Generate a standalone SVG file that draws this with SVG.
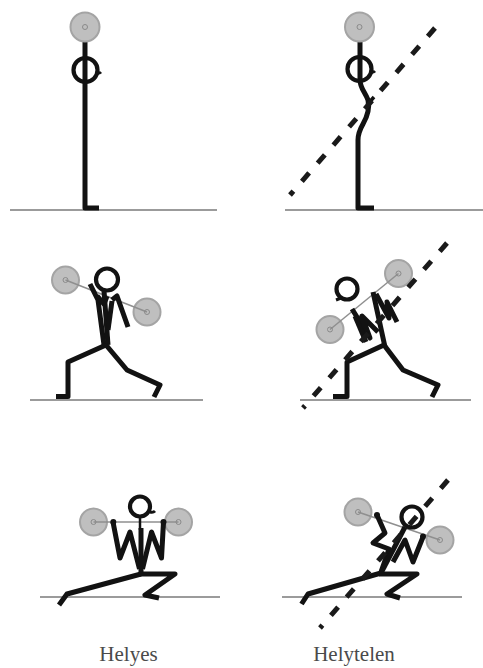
<svg xmlns="http://www.w3.org/2000/svg" width="483" height="668" viewBox="0 0 483 668">
  <style>
    .ground { stroke: #7a7a7a; stroke-width: 1.6; fill: none; }
    .body { stroke: #121212; stroke-width: 5; fill: none; stroke-linecap: butt; stroke-linejoin: round; }
    .head { stroke: #121212; stroke-width: 4.2; fill: #fff; }
    .open { fill: none; }
    .plate { fill: #bfbfbf; stroke: #a4a4a4; stroke-width: 2; }
    .hub { fill: none; stroke: #8a8a8a; stroke-width: 1; }
    .bar { stroke: #8f8f8f; stroke-width: 1.5; fill: none; }
    .hand { fill: #121212; }
    .axis { stroke: #1a1a1a; stroke-width: 5; fill: none; stroke-dasharray: 11 13; }
    .caption { font-family: "Liberation Serif", "Times New Roman", serif; font-size: 21px; fill: #4a4a4a; text-anchor: middle; }
  </style>

  <!-- floor lines -->
  <g id="floors">
    <line class="ground" x1="10" y1="210" x2="217" y2="210"/>
    <line class="ground" x1="285" y1="210" x2="483" y2="210"/>
    <line class="ground" x1="30" y1="400" x2="203" y2="400"/>
    <line class="ground" x1="300" y1="400" x2="471" y2="400"/>
    <line class="ground" x1="40" y1="597" x2="220" y2="597"/>
    <line class="ground" x1="282" y1="597" x2="462" y2="597"/>
  </g>

  <!-- standing, bar overhead seen from the side: upright -->
  <g id="stand-upright">
    <path class="body" d="M85,41 V208 H99"/>
    <circle class="head open" cx="85.5" cy="70" r="12"/>
    <path class="body" style="stroke-width:3" d="M96,73 q3,1 5,-1"/>
    <circle class="plate" cx="85" cy="27" r="14.5"/>
    <circle class="hub" cx="85" cy="27" r="2.5"/>
  </g>

  <!-- standing, arched back -->
  <g id="stand-arched">
    <path class="body" d="M360,41 V80 C360,88 365,92 368,100 C370,109 367,117 363,124 C359,131 358,134 358,140 V208 H374"/>
    <path class="body" style="stroke-width:3.5" d="M367,105 L374,97"/>
    <circle class="head open" cx="359.5" cy="69" r="12"/>
    <path class="body" style="stroke-width:3" d="M370,72 q3,1 5,-1"/>
    <circle class="plate" cx="359.5" cy="27" r="14.5"/>
    <circle class="hub" cx="359.5" cy="27" r="2.5"/>
  </g>

  <!-- lunge with bar on shoulders: upright -->
  <g id="lunge-upright">
    <circle class="plate" cx="65.5" cy="280" r="13.5"/>
    <circle class="plate" cx="147" cy="312" r="13.5"/>
    <line class="bar" x1="65.5" y1="280" x2="147" y2="312"/>
    <circle class="hub" cx="65.5" cy="280" r="2.5"/>
    <circle class="hub" cx="147" cy="312" r="2.5"/>
    <circle class="head" cx="107" cy="279.5" r="11"/>
    <path class="body" d="M90,284 L98,300 L104,345"/>
    <path class="body" d="M97,296 L104,304 L107,296"/>
    <path class="body" d="M104,291 L108,345"/>
    <path class="body" d="M112,300 L117,296 L128,327"/>
    <path class="body" d="M112,301 L108,330"/>
    <path class="body" d="M106,345 L68,362 V396.5 H56"/>
    <path class="body" d="M106,345 L127,370 L160,385 L154,397"/>
  </g>

  <!-- lunge with bar on shoulders: leaning forward -->
  <g id="lunge-leaning">
    <circle class="plate" cx="330" cy="329.5" r="13.5"/>
    <circle class="plate" cx="398.5" cy="273.5" r="13.5"/>
    <line class="bar" x1="330" y1="329.5" x2="398.5" y2="273.5"/>
    <circle class="hub" cx="330" cy="329.5" r="2.5"/>
    <circle class="hub" cx="398.5" cy="273.5" r="2.5"/>
    <circle class="head" cx="347" cy="289" r="10.5"/>
    <path class="body" style="stroke-width:3" d="M341,298 L336,300"/>
    <path class="body" d="M373,292 L385,347"/>
    <path class="body" d="M352,309 L370,338 L362,316 L378,332"/>
    <path class="body" d="M376,294 L389,318 L387,302 L397,322"/>
    <path class="body" d="M355,316 L366,342"/>
    <path class="body" d="M384,345 L347,362 V396.5 H333"/>
    <path class="body" d="M384,345 L403,370 L438,385 L432,397"/>
  </g>

  <!-- deep lunge, bar in front of shoulders: upright -->
  <g id="deep-upright">
    <circle class="plate" cx="93.5" cy="522" r="13.5"/>
    <circle class="plate" cx="178.5" cy="522" r="13.5"/>
    <line class="bar" x1="93.5" y1="522" x2="178.5" y2="522"/>
    <circle class="hub" cx="93.5" cy="522" r="2.5"/>
    <circle class="hub" cx="178.5" cy="522" r="2.5"/>
    <circle class="head" cx="140" cy="506.5" r="10"/>
    <path class="body" style="stroke-width:3" d="M150,512 q3,1 5,-1"/>
    <line class="body" style="stroke-width:2.5" x1="140" y1="516" x2="140" y2="530"/>
    <path class="body" d="M113,522 L120,558 L130,532 L139.5,569"/>
    <path class="body" d="M163.5,522 L161.5,558 L151.5,532 L142.5,569"/>
    <line class="body" x1="141" y1="528" x2="141" y2="575"/>
    <circle class="hand" cx="113.3" cy="522" r="3"/>
    <circle class="hand" cx="163.5" cy="522" r="3"/>
    <path class="body" d="M141,574 L67,594 L59,605"/>
    <path class="body" d="M139,574 H175 L145,595 L159,598"/>
  </g>

  <!-- deep lunge, bar in front of shoulders: twisted -->
  <g id="deep-twisted">
    <circle class="plate" cx="358" cy="512" r="13.5"/>
    <circle class="plate" cx="440" cy="540" r="13.5"/>
    <line class="bar" x1="358" y1="512" x2="440" y2="540"/>
    <circle class="hub" cx="358" cy="512" r="2.5"/>
    <circle class="hub" cx="440" cy="540" r="2.5"/>
    <circle class="head" cx="412" cy="517" r="10.5"/>
    <path class="body" d="M377,515 L385,533 L373,543 L389,549 L381,572"/>
    <path class="body" d="M423,537 L413,562 L405,540 L393,562"/>
    <path class="body" d="M405,527 L381,573"/>
    <circle class="hand" cx="377" cy="515" r="3"/>
    <circle class="hand" cx="423" cy="536.5" r="3"/>
    <path class="body" d="M381,573 L308,594 L301.5,604"/>
    <path class="body" d="M379,574 H417 L387,594 L400,598"/>
  </g>

  <!-- reference axes through the faulty postures -->
  <g id="axes">
    <line class="axis" x1="435" y1="28" x2="290" y2="195"/>
    <line class="axis" x1="447" y1="243" x2="303" y2="408"/>
    <line class="axis" x1="448" y1="480" x2="320" y2="628"/>
  </g>

  <g id="captions">
    <text class="caption" x="128.5" y="661">Helyes</text>
    <text class="caption" x="354" y="661">Helytelen</text>
  </g>
</svg>
